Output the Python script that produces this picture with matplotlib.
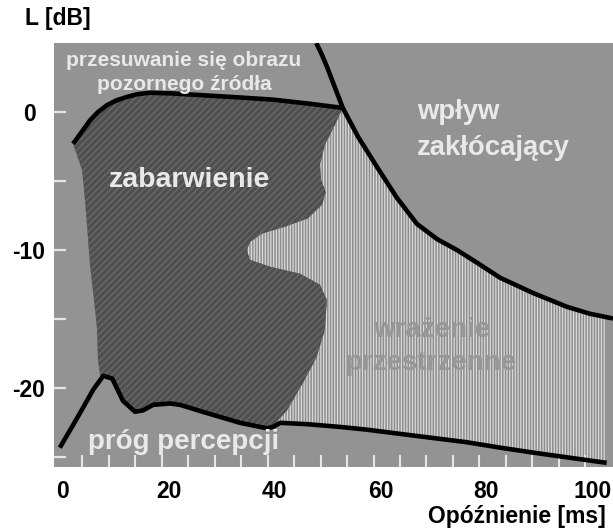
import numpy as np
import matplotlib
matplotlib.use("Agg")
import matplotlib.pyplot as plt
from matplotlib.ticker import FixedLocator
from matplotlib.transforms import ScaledTranslation

# =====================================================
# DATA  (delay in ms, level in dB)
# =====================================================

# upper boundary of "zabarwienie" (image shift limit)
shift_x = [3.3, 5.0, 6.5, 8.0, 9.7, 11.5, 13.5, 15.5, 17.8, 22.0,
           28.6, 35.0, 41.0, 48.0, 54.2]
shift_y = [-2.3, -1.4, -0.6, 0.0, 0.5, 0.85, 1.1, 1.3, 1.4, 1.35,
           1.2, 1.05, 0.9, 0.6, 0.3]

# boundary of the disturbing region
dist_x = [49.2, 50.2, 51.2, 53.1, 54.2, 57.1, 60.7, 64.4, 68.2, 72.0,
          75.8, 79.5, 83.9, 90.1, 96.5, 100.8, 105.2]
dist_y = [5.0, 4.2, 3.3, 1.4, 0.3, -1.8, -4.0, -6.2, -8.1, -9.2,
          -10.0, -10.9, -12.0, -13.1, -14.1, -14.6, -14.95]

# perception threshold
thr_x = [0.8, 4.6, 7.1, 9.0, 10.7, 12.7, 15.0, 16.5, 18.4, 21.6,
         23.5, 28.6, 34.8, 39.9, 41.0, 42.4, 47.5, 53.7, 58.8, 65.0,
         71.2, 77.5, 83.9, 90.0, 96.5, 104.0]
thr_y = [-24.3, -21.8, -20.1, -19.1, -19.3, -20.9, -21.7, -21.6, -21.2, -21.1,
         -21.2, -21.8, -22.5, -22.9, -22.8, -22.5, -22.6, -22.8, -23.0, -23.3,
         -23.6, -23.9, -24.3, -24.65, -25.0, -25.4]

# left edge of "zabarwienie" (bottom -> top)
col_left_x = [8.4, 8.0, 7.8, 7.1, 6.5, 6.1, 5.6, 5.0, 3.3]
col_left_y = [-19.1, -18.0, -15.6, -13.1, -11.1, -9.1, -6.6, -4.2, -2.3]

# right edge of "zabarwienie" (top -> bottom)
col_right_x = [54.2, 52.7, 50.8, 49.9, 50.1, 51.0, 50.3, 47.6, 43.3, 39.0,
               36.7, 36.1, 36.7, 40.5, 46.1, 49.9, 51.2, 50.8, 49.2, 46.7,
               43.7, 40.8]
col_right_y = [0.3, -0.94, -2.4, -3.8, -4.9, -5.8, -6.7, -7.7, -8.3, -8.8,
               -9.4, -10.0, -10.7, -11.2, -11.7, -12.5, -13.6, -15.8, -17.8, -19.6,
               -21.6, -22.8]

hatch_end = 103.7

x_ticks = [0, 20, 40, 60, 80, 100]
y_ticks = [0, -10, -20]

# =====================================================
# STYLE
# =====================================================

plt.rcParams["font.family"] = ["Liberation Sans", "DejaVu Sans"]
plt.rcParams["font.weight"] = "bold"
plt.rcParams["hatch.linewidth"] = 0.9

BG = "#939393"
DARK = "#4f4f4f"
DARK_HATCH = "#6c6c6c"
STRIPE = "#dadada"
LIGHT_TXT = "#e9e9e9"
TICK = "#e6e6e6"

fig = plt.figure(figsize=(6.13, 5.28), dpi=100)
ax = fig.add_axes([54 / 613, 61 / 528, 559 / 613, 424 / 528])
ax.set_facecolor(BG)
ax.set_xlim(-0.3, 105.2)
ax.set_ylim(-25.7, 5.0)
ax.set_axisbelow(False)
for s in ax.spines.values():
    s.set_visible(False)

# =====================================================
# REGIONS
# =====================================================

shift_x = np.array(shift_x)
shift_y = np.array(shift_y)
dist_x = np.array(dist_x)
dist_y = np.array(dist_y)
thr_x = np.array(thr_x)
thr_y = np.array(thr_y)

# spatial impression (vertical stripes)
m_top = (dist_x >= 54.2) & (dist_x < hatch_end)
m_bot = (thr_x > 41.0) & (thr_x < hatch_end)
y_end_top = np.interp(hatch_end, dist_x, dist_y)
y_end_bot = np.interp(hatch_end, thr_x, thr_y)
sp_x = np.concatenate([dist_x[m_top], [hatch_end, hatch_end],
                       thr_x[m_bot][::-1], col_right_x[::-1]])
sp_y = np.concatenate([dist_y[m_top], [y_end_top, y_end_bot],
                       thr_y[m_bot][::-1], col_right_y[::-1]])
ax.fill(sp_x, sp_y, facecolor="#8d8d8d", edgecolor=STRIPE,
        hatch="||||||", linewidth=0, zorder=1)

# colouration (dark diagonal hatch)
m_c = (thr_x >= 8.4) & (thr_x <= 41.0)
col_x = np.concatenate([shift_x, col_right_x[1:], thr_x[m_c][::-1], col_left_x])
col_y = np.concatenate([shift_y, col_right_y[1:], thr_y[m_c][::-1], col_left_y])
ax.fill(col_x, col_y, facecolor=DARK, edgecolor=DARK_HATCH,
        hatch="/////", linewidth=0, zorder=1.1)

# =====================================================
# CURVES
# =====================================================

for cx, cy in [(shift_x, shift_y), (dist_x, dist_y), (thr_x, thr_y)]:
    ax.plot(cx, cy, color="black", lw=3.3, solid_capstyle="butt",
            solid_joinstyle="round", zorder=5)

# =====================================================
# LABELS
# =====================================================

ax.text(24.2, 3.7, "przesuwanie się obrazu", color=LIGHT_TXT,
        fontsize=15, ha="center", va="center", zorder=6)
ax.text(24.2, 2.0, "pozornego źródła", color=LIGHT_TXT,
        fontsize=15, ha="center", va="center", zorder=6)
ax.text(25.2, -4.9, "zabarwienie", color=LIGHT_TXT,
        fontsize=20.5, ha="center", va="center", zorder=6)
ax.text(68.2, 0.0, "wpływ", color=LIGHT_TXT,
        fontsize=19.8, ha="left", va="center", zorder=6)
ax.text(68.2, -2.6, "zakłócający", color=LIGHT_TXT,
        fontsize=19.8, ha="left", va="center", zorder=6)
ax.text(70.9, -15.8, "wrażenie", color="#979797",
        fontsize=20, ha="center", va="center", zorder=6)
ax.text(70.9, -18.2, "przestrzenne", color="#979797",
        fontsize=20, ha="center", va="center", zorder=6)
ax.text(24.1, -23.9, "próg percepcji", color=LIGHT_TXT,
        fontsize=20, ha="center", va="center", zorder=6)

# =====================================================
# TICKS
# =====================================================

ax.xaxis.remove_overlapping_locs = False
ax.set_xticks(x_ticks)
ax.set_xticklabels([str(v) for v in x_ticks])
ax.xaxis.set_minor_locator(FixedLocator(np.arange(5, 101, 5)))
ax.tick_params(axis="x", which="major", length=0, pad=9,
               labelsize=16.5, labelcolor="black")
ax.tick_params(axis="x", which="minor", direction="in", length=8.5,
               width=1.5, color=TICK)
off = ScaledTranslation(7 / 100, 0, fig.dpi_scale_trans)
for lab in ax.get_xticklabels():
    lab.set_transform(lab.get_transform() + off)

ax.set_yticks(y_ticks)
ax.set_yticklabels([str(v) for v in y_ticks], ha="center")
ax.yaxis.set_minor_locator(FixedLocator([-5, -15, -25]))
ax.tick_params(axis="y", which="both", direction="in", length=8.5,
               width=1.6, color=TICK)
ax.tick_params(axis="y", which="major", pad=18, labelsize=16.5,
               labelcolor="black")

fig.text(25 / 613, 1 - 19 / 528, "L [dB]", fontsize=16.5,
         ha="left", va="center")
fig.text(606 / 613, 1 - 516 / 528, "Opóźnienie [ms]", fontsize=16.5,
         ha="right", va="center")

fig.savefig("out.png", dpi=100)
